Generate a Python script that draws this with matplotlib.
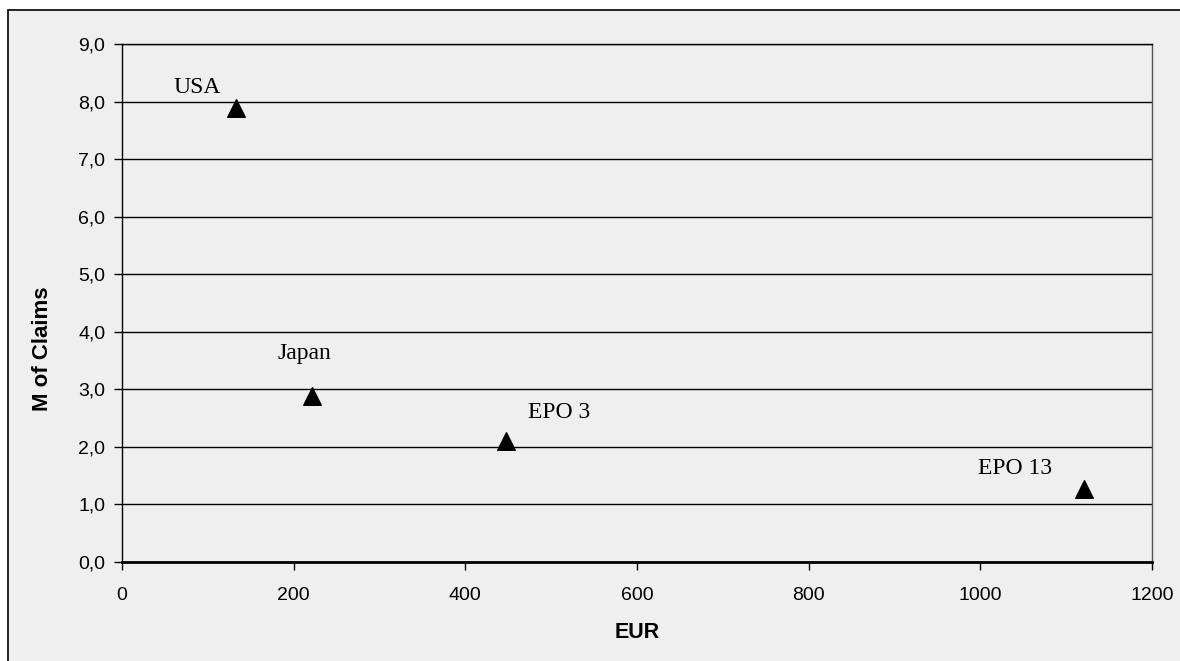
import matplotlib.pyplot as plt
from matplotlib.patches import Rectangle
from matplotlib.ticker import FuncFormatter

countries = ['USA', 'Japan', 'EPO 3', 'EPO 13']
eur = [133, 221, 447, 1121]
claims = [7.88, 2.88, 2.10, 1.26]
# label positions (data coords) as placed in the original chart
label_x = [88, 213, 509, 1040]
label_y = [8.25, 3.63, 2.60, 1.63]

W, H = 1180, 661
fig = plt.figure(figsize=(W / 100, H / 100), dpi=100, facecolor='white')

# chart area background with border (only left/top edges visible)
fig.patches.append(Rectangle((8 / W, -0.05), 1.1, (H - 10) / H + 0.05,
                             transform=fig.transFigure, facecolor='#efefef',
                             edgecolor='black', linewidth=1.2, zorder=-5))

ax = fig.add_axes([122 / W, (H - 562) / H, (1152 - 122) / W, (562 - 44) / H])
ax.set_facecolor('#efefef')

ax.scatter(eur, claims, marker='^', s=160, color='black', zorder=3)
for name, lx, ly in zip(countries, label_x, label_y):
    ax.text(lx, ly, name, ha='center', va='center', fontsize=17,
            family='Liberation Serif', color='black')

ax.set_xlim(0, 1200)
ax.set_ylim(0, 9)
ax.set_xticks(range(0, 1201, 200))
ax.set_yticks(range(0, 10))
ax.yaxis.set_major_formatter(FuncFormatter(lambda v, p: f'{v:.1f}'.replace('.', ',')))
ax.grid(axis='y', color='black', linewidth=1)
ax.set_axisbelow(True)

for s in ['top', 'right', 'left']:
    ax.spines[s].set_linewidth(1)
    ax.spines[s].set_color('black')
ax.spines['right'].set_color('#555555')
ax.spines['bottom'].set_linewidth(2)

ax.tick_params(labelsize=14, length=6, width=1, pad=6)
ax.tick_params(axis='x', pad=12)
for lab in ax.get_xticklabels() + ax.get_yticklabels():
    lab.set_family('Liberation Sans')

fig.text(637 / W, 1 - 632 / H, 'EUR', ha='center', va='center', fontsize=15.5,
         fontweight='bold', family='Liberation Sans')
fig.text(42 / W, 1 - 349 / H, 'M of Claims', ha='center', va='center', fontsize=16,
         fontweight='bold', family='Liberation Sans', rotation=90)

fig.savefig('out.png', dpi=100, facecolor='white')
